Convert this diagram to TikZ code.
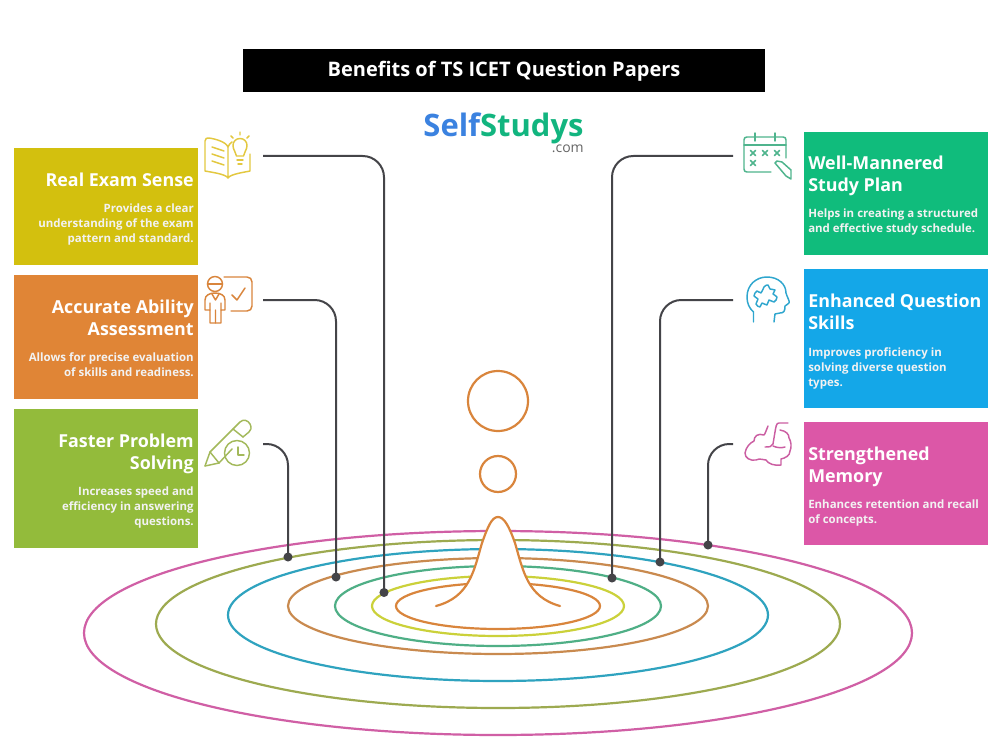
\documentclass[tikz,border=0pt]{standalone}
\usepackage{fontspec}
\setmainfont{Open Sans}
\newfontfamily\logofont{Open Sans}
\definecolor{cYel}{HTML}{D3C00E}
\definecolor{cOra}{HTML}{E08536}
\definecolor{cGrn}{HTML}{93BB3B}
\definecolor{cEme}{HTML}{10BC7C}
\definecolor{cBlu}{HTML}{14A7E8}
\definecolor{cPnk}{HTML}{DC57A7}
\definecolor{lYel}{HTML}{E3C840}
\definecolor{lOra}{HTML}{D9853C}
\definecolor{lGrn}{HTML}{A3B95B}
\definecolor{lEme}{HTML}{4FB48D}
\definecolor{lBlu}{HTML}{2FA6CE}
\definecolor{lPnk}{HTML}{CB5EA2}
\definecolor{rPnk}{HTML}{D05FA5}
\definecolor{rOli}{HTML}{9DAA50}
\definecolor{rBlu}{HTML}{2FA3BF}
\definecolor{rBrn}{HTML}{C98A4F}
\definecolor{rGrn}{HTML}{4FAF86}
\definecolor{rLim}{HTML}{CBD13A}
\definecolor{conn}{HTML}{444448}
\definecolor{logoB}{HTML}{3B82E0}
\definecolor{logoG}{HTML}{12B57F}
\tikzset{
  x=0.75pt,y=-0.75pt,
  benefit/.style={rectangle,draw=none,minimum width=138pt,inner sep=0pt,anchor=north west},
  headL/.style={anchor=north east,align=right,inner sep=0pt,text=white,font=\fontsize{13.4}{16.5}\selectfont\bfseries},
  descL/.style={anchor=north east,align=right,inner sep=0pt,text=white!95!black,font=\fontsize{8.6}{11.25}\selectfont\bfseries},
  headR/.style={anchor=north west,align=left,inner sep=0pt,text=white,font=\fontsize{13.4}{16.5}\selectfont\bfseries},
  descR/.style={anchor=north west,align=left,inner sep=0pt,text=white!95!black,font=\fontsize{8.6}{11.25}\selectfont\bfseries},
  ring/.style={line width=1.65pt},
  link/.style={draw=conn,line width=1.5pt,rounded corners=16pt},
  dot/.style={circle,fill=conn,inner sep=0pt,minimum size=6.8pt},
  ico/.style={line width=1.1pt,line cap=round,line join=round},
}
\begin{document}
\begin{tikzpicture}
\useasboundingbox (0,0) rectangle (1008,749);
\fill[white] (0,0) rectangle (1008,749);
% title
\node[fill=black,text=white,minimum width=391.5pt,minimum height=32.25pt,inner sep=0pt] (title) at (504,70.5) {};
\node[inner sep=0pt,anchor=base,text=white,font=\fontsize{15}{18}\selectfont\bfseries] (titletext) at (504,76.5) {Benefits of TS ICET Question Papers};
\node[inner sep=0pt,anchor=base,font=\logofont\fontsize{23.2}{26}\selectfont\bfseries] (logo) at (503.5,136.5) {\textcolor{logoB}{Self}\textcolor{logoG}{Studys}};
\node[inner sep=0pt,anchor=base east,text=black!60,font=\fontsize{10.5}{12}\selectfont] (logocom) at (584,152.5) {.com};
% rings
\draw[ring,rPnk] (498,633) ellipse [x radius=414,y radius=102];
\draw[ring,rOli] (498,624) ellipse [x radius=342,y radius=84];
\draw[ring,rBlu] (498,615) ellipse [x radius=270,y radius=66];
\draw[ring,rBrn] (498,606) ellipse [x radius=210,y radius=48];
\draw[ring,rGrn] (498,606) ellipse [x radius=163,y radius=40];
\draw[ring,rLim] (498,606) ellipse [x radius=126,y radius=30];
\draw[ring,lOra] (498,606) ellipse [x radius=102,y radius=23];
% drop
\draw[ring,lOra,fill=white,line cap=round] (436,606) .. controls (470,597) and (474,570) .. (482,543) .. controls (488,526) and (492,517) .. (498,517) .. controls (504,517) and (509,526) .. (515,543) .. controls (523,570) and (527,597) .. (560,606);
\draw[ring,lOra] (498,401) circle [radius=30];
\draw[ring,lOra] (498,474) circle [radius=18];
% boxes
\node[benefit,fill=cYel,minimum height=87.75pt] (b1) at (14,148) {};
\node[benefit,fill=cOra,minimum height=93pt] (b2) at (14,275) {};
\node[benefit,fill=cGrn,minimum height=104.25pt] (b3) at (14,409) {};
\node[benefit,fill=cEme,minimum height=92.25pt] (b4) at (804,132) {};
\node[benefit,fill=cBlu,minimum height=104.25pt] (b5) at (804,269) {};
\node[benefit,fill=cPnk,minimum height=92.25pt] (b6) at (804,422) {};
% box text
\node[headL] (h1) at (194,173) {Real Exam Sense};
\node[descL] (d1) at (194,204) {Provides a clear\\understanding of the exam\\pattern and standard.};
\node[headL] (h2) at (194,300) {Accurate Ability\\Assessment};
\node[descL] (d2) at (194,352) {Allows for precise evaluation\\of skills and readiness.};
\node[headL] (h3) at (194,434) {Faster Problem\\Solving};
\node[descL] (d3) at (194,487) {Increases speed and\\efficiency in answering\\questions.};
\node[headR] (h4) at (808,156) {Well-Mannered\\Study Plan};
\node[descR] (d4) at (808,209) {Helps in creating a structured\\and effective study schedule.};
\node[headR] (h5) at (808,294) {Enhanced Question\\Skills};
\node[descR] (d5) at (808,347) {Improves proficiency in\\solving diverse question\\types.};
\node[headR] (h6) at (808,447) {Strengthened\\Memory};
\node[descR] (d6) at (808,500) {Enhances retention and recall\\of concepts.};
% connectors
\coordinate (s1) at (263,156); \coordinate (s2) at (263,300); \coordinate (s3) at (263,444);
\coordinate (s4) at (733,156); \coordinate (s5) at (733,300); \coordinate (s6) at (733,444);
\node[dot] (e1) at (384,592.5) {};
\node[dot] (e2) at (336,577) {};
\node[dot] (e3) at (288,557) {};
\node[dot] (e4) at (612,578) {};
\node[dot] (e5) at (660,562) {};
\node[dot] (e6) at (708,545) {};
\draw[link] (s1) -| (e1.center);
\draw[link] (s2) -| (e2.center);
\draw[link] (s3) -| (e3.center);
\draw[link] (s4) -| (e4.center);
\draw[link] (s5) -| (e5.center);
\draw[link] (s6) -| (e6.center);
% icon 1
\begin{scope}[ico,draw=lYel]
\draw (228,178) .. controls (226,174) and (210,172) .. (205,171) -- (205,141) .. controls (205,138) and (207,138) .. (209,138) .. controls (216,139) and (226,142) .. (228,147) -- (228,178) .. controls (230,174) and (246,172) .. (250,171) -- (250,154);
\draw (228,147) .. controls (229,145) and (230,143) .. (232,142);
\draw (212,147) -- (224,151) (212,154) -- (224,158) (212,161) -- (224,165);
\draw (236.5,156) .. controls (236,152) and (233,150) .. (233,145.5) .. controls (233,141.5) and (236,138.5) .. (240,138.5) .. controls (244,138.5) and (247,141.5) .. (247,145.5) .. controls (247,150) and (244,152) .. (243.5,156) -- cycle;
\draw (237,160) -- (243,160) (238,164) -- (242,164);
\draw (240,132) -- (240,135) (231,136) -- (233,138) (249,136) -- (247,138);
\end{scope}
% icon 2
\begin{scope}[ico,draw=lOra]
\draw (215,284) circle[radius=7.5];
\draw (207.5,284) -- (222.5,284);
\draw (205,310) -- (205,300) .. controls (205,295) and (210,293) .. (215,293) .. controls (220,293) and (225,295) .. (225,300) -- (225,310) -- (221,310) -- (221,323) -- (210,323) -- (210,310) -- (205,310);
\draw (210,303) -- (210,310) (221,303) -- (221,310) (215.5,310) -- (215.5,323) (212,294) -- (215.5,300) -- (219,294);
\draw (224,277) -- (247,277) .. controls (250,277) and (252,279) .. (252,282) -- (252,306) .. controls (252,309) and (250,311) .. (247,311) -- (231,311);
\draw (232,295) -- (237,300) -- (245,288);
\end{scope}
% icon 3
\begin{scope}[ico,draw=lGrn]
\draw (205,466) -- (210,452) -- (240,422) .. controls (243,419) and (248,420) .. (250,424) .. controls (252,428) and (251,430) .. (249,432) -- (243,437);
\draw (205,466) -- (219,463) -- (232,449);
\draw (210,452) -- (219,463);
\draw (233,429) -- (243,437);
\draw (237,453) circle[radius=12.5];
\draw (238,447) -- (238,455) -- (244,455);
\end{scope}
% icon 4
\begin{scope}[ico,draw=lEme]
\draw (786,158) -- (786,140) .. controls (786,138) and (785,137) .. (783,137) -- (747,137) .. controls (745,137) and (744,138) .. (744,140) -- (744,169) .. controls (744,171) and (745,172) .. (747,172) -- (771,172);
\draw (744,145) -- (786,145);
\draw (755,133) -- (755,141) (775,133) -- (775,141);
\foreach \px/\py in {753/153,765/153,777/153,753/163}{
  \draw (\px-2.5,\py-2.5) -- (\px+2.5,\py+2.5) (\px-2.5,\py+2.5) -- (\px+2.5,\py-2.5);
}
\draw (791,179) -- (791,170) -- (782,162) -- (777,161) -- (775,163) -- (786,176) -- cycle;
\end{scope}
% icon 5
\begin{scope}[ico,draw=lBlu]
\draw (753.5,322) -- (753.5,312) .. controls (749,308) and (747,303) .. (747,297) .. controls (747,285) and (756,277) .. (767,277) .. controls (778,277) and (786,284) .. (786,293) .. controls (787,297) and (790,301) .. (789,303) .. controls (788,305) and (785,305) .. (785,306) .. controls (785,311) and (784,313) .. (780,313) -- (775,314) -- (774,322);
\draw plot[smooth cycle,tension=0.7] coordinates {(764,287) (768,285) (770,289) (775,290) (773,294) (777,297) (774,302) (769,300) (767,305) (762,303) (760,307) (756,304) (758,299) (754,296) (757,291) (761,293)};
\end{scope}
% icon 6
\begin{scope}[ico,draw=lPnk]
\draw (788,423) -- (779,423) .. controls (776,423) and (776,427) .. (775,432) -- (773,444) .. controls (772,447) and (769,447) .. (765,447);
\draw (773,446) .. controls (777,448) and (782,448) .. (785,447);
\draw (768,426) .. controls (766,431) and (765,434) .. (764,435) .. controls (758,433) and (754,436) .. (754,441) .. controls (750,443) and (746,447) .. (745,453) .. controls (745,458) and (750,461) .. (756,460) .. controls (760,458) and (763,460) .. (766,460) .. controls (768,464) and (775,466) .. (781,465) -- (781,459) .. controls (785,458) and (790,456) .. (790,451) .. controls (792,447) and (791,441) .. (789,438) .. controls (789,434) and (786,431) .. (780,430);
\end{scope}
\end{tikzpicture}
\end{document}
